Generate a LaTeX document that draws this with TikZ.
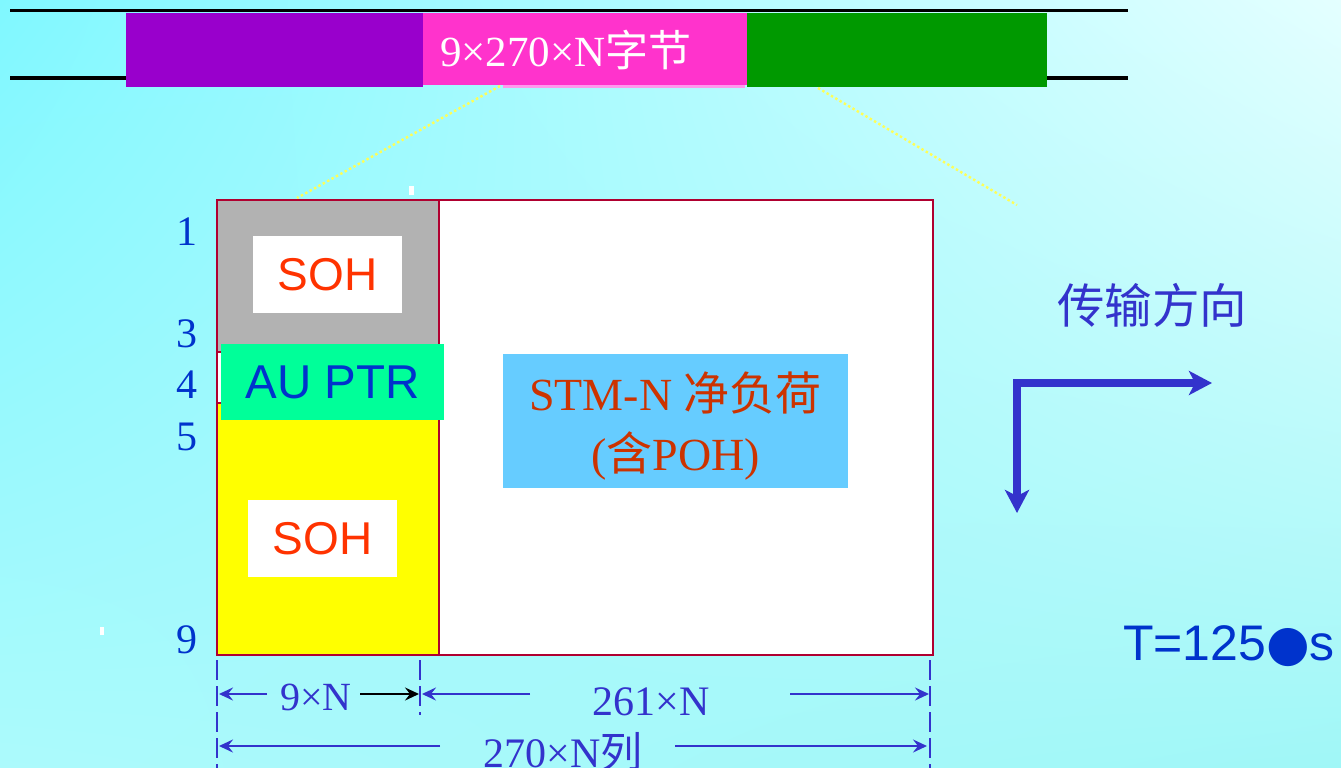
\documentclass[tikz,border=0pt]{standalone}
\usepackage{fontspec}
\setmainfont{Liberation Serif}
\newfontfamily\arialf{Liberation Sans}
\newfontfamily\cjk{Noto Sans CJK SC}
\newfontfamily\dejavu{DejaVu Sans}
\usetikzlibrary{arrows.meta,shadings}
\definecolor{bgA}{RGB}{128,248,255}
\definecolor{bgB}{RGB}{228,255,255}
\definecolor{bgC}{RGB}{172,250,252}
\definecolor{bgD}{RGB}{160,247,247}
\definecolor{purp}{HTML}{9900CC}
\definecolor{pinkc}{HTML}{FF33CC}
\definecolor{palepink}{HTML}{FF99EE}
\definecolor{greenc}{HTML}{009900}
\definecolor{grayc}{HTML}{B2B2B2}
\definecolor{yelc}{HTML}{FFFF00}
\definecolor{aquac}{HTML}{00FF99}
\definecolor{skyc}{HTML}{66CCFF}
\definecolor{framec}{HTML}{B00030}
\definecolor{blueA}{HTML}{0033CC}
\definecolor{blueB}{HTML}{3333CC}
\definecolor{redt}{HTML}{FF3300}
\definecolor{brownt}{HTML}{CC3300}
\definecolor{dotc}{HTML}{FFFF55}
\tikzset{
  box/.style={inner sep=0pt, outer sep=0pt, anchor=north west},
  rownum/.style={text=blueA, font=\fontsize{42}{44}\selectfont},
  sohtext/.style={box, fill=white, minimum width=149, minimum height=77, text=redt, font=\arialf\fontsize{46}{48}\selectfont},
  dimtext/.style={text=blueB, font=\fontsize{42}{44}\selectfont, inner sep=0pt},
  dimarrow/.style={draw=blueB, line width=2.4pt, -{Stealth[length=14pt,width=13pt,inset=5pt]}},
  tick/.style={draw=blueB, line width=2.4pt, dash pattern=on 20pt off 6pt},
  frameline/.style={draw=framec, line width=2.8pt},
  zoomline/.style={draw=dotc, line width=2.4pt, dash pattern=on 2.4pt off 2.6pt},
}
\begin{document}
\begin{tikzpicture}[x=1pt,y=-1pt]
\useasboundingbox (0,0) rectangle (1341,768);
\shade[upper left=bgA, upper right=bgB, lower left=bgC, lower right=bgD] (0,0) rectangle (1341,768);

% top bar
\coordinate (l1a) at (10,11); \coordinate (l1b) at (1128,11);
\coordinate (l2a) at (10,78); \coordinate (l2b) at (1128,78);
\draw[line width=3pt] (l1a) -- (l1b);
\draw[line width=3pt] (l2a) -- (l2b);
\node[box, fill=purp, minimum width=297, minimum height=74] (purple) at (126,13) {};
\node[box, fill=greenc, minimum width=300, minimum height=74] (green) at (747,13) {};
\fill[palepink] (503,84) rectangle (745,88);
\node[box, fill=pinkc, minimum width=324, minimum height=72] (pink) at (423,13) {};
\node[text=white, font=\fontsize{43}{45}\selectfont, inner sep=0pt] (pinktext) at (566,50) {9×270×N{\cjk 字节}};

% zoom lines
\coordinate (zl1) at (500,86); \coordinate (zl2) at (297,198);
\coordinate (zr1) at (818,88); \coordinate (zr2) at (1017,205);
\draw[zoomline] (zl1) -- (zl2);
\draw[zoomline] (zr1) -- (zr2);

% stray white marks
\fill[white] (409,186) rectangle (414,195);
\fill[white] (100,627) rectangle (104,635);

% frame
\node[box, fill=white, minimum width=716, minimum height=455] (frame) at (217,200) {};
\node[box, fill=grayc, minimum width=222, minimum height=152] (gray) at (217,200) {};
\node[box, fill=yelc, minimum width=222, minimum height=252] (yel) at (217,403) {};
\draw[frameline] (frame.north west) rectangle (frame.south east);
\draw[frameline] (gray.north east) -- (gray.north east |- frame.south);
\draw[frameline] (gray.south west) -- (gray.south east);
\draw[frameline] (yel.north west) -- (yel.north east);

% inner boxes
\node[sohtext] (soh1) at (253,236) {SOH};
\node[sohtext] (soh2) at (248,500) {SOH};
\node[box, fill=aquac, minimum width=223, minimum height=76, text=blueA, font=\arialf\fontsize{47.5}{49}\selectfont] (auptr) at (221,344) {AU PTR};
\node[box, fill=skyc, minimum width=345, minimum height=134] (stm) at (503,354) {};
\node[text=brownt, font=\fontsize{46}{60}\selectfont, align=center, inner sep=0pt] (stmtext) at ([yshift=-5pt]stm.center) {STM-N {\cjk 净负荷}\\({\cjk 含}POH)};

% row numbers
\node[rownum] (r1) at (187,232) {1};
\node[rownum] (r3) at (187,334) {3};
\node[rownum] (r4) at (187,385) {4};
\node[rownum] (r5) at (187,437) {5};
\node[rownum] (r9) at (187,640) {9};

% dimension ticks
\coordinate (t1a) at (217,660); \coordinate (t1b) at (217,768);
\coordinate (t2a) at (420,660); \coordinate (t2b) at (420,715);
\coordinate (t3a) at (930,660); \coordinate (t3b) at (930,768);
\draw[tick] (t1a) -- (t1b);
\draw[tick] (t2a) -- (t2b);
\draw[tick] (t3a) -- (t3b);

% dims
\node[dimtext, font=\fontsize{40}{42}\selectfont] (d9) at (316,697) {9×N};
\node[dimtext] (d261) at (651,702) {261×N};
\node[dimtext] (d270) at (563,752) {270×N{\cjk 列}};
\coordinate (a1s) at (267,694); \coordinate (a1e) at (219,694);
\coordinate (a2s) at (360,694); \coordinate (a2e) at (419,694);
\coordinate (a3s) at (530,694); \coordinate (a3e) at (422,694);
\coordinate (a4s) at (790,694); \coordinate (a4e) at (929,694);
\coordinate (a5s) at (440,746); \coordinate (a5e) at (219,746);
\coordinate (a6s) at (675,746); \coordinate (a6e) at (927,746);
\draw[dimarrow] (a1s) -- (a1e);
\draw[dimarrow, draw=black] (a2s) -- (a2e);
\draw[dimarrow] (a3s) -- (a3e);
\draw[dimarrow] (a4s) -- (a4e);
\draw[dimarrow] (a5s) -- (a5e);
\draw[dimarrow] (a6s) -- (a6e);

% direction
\node[text=blueB, font=\cjk\fontsize{47.5}{49}\selectfont, inner sep=0pt] (dir) at (1152,305) {传输方向};
\coordinate (dcorner) at (1017,383);
\coordinate (ddown) at (1017,513);
\coordinate (dright) at (1212,383);
\draw[draw=blueB, line width=8pt, {Stealth[length=23pt,width=24pt,inset=6pt]}-{Stealth[length=23pt,width=24pt,inset=6pt]}] (ddown) -- (dcorner) -- (dright);

\node[text=blueA, font=\arialf\fontsize{50}{52}\selectfont, inner sep=0pt] (period) at (1229,646) {T=125{\dejavu ●}s};
\end{tikzpicture}
\end{document}
